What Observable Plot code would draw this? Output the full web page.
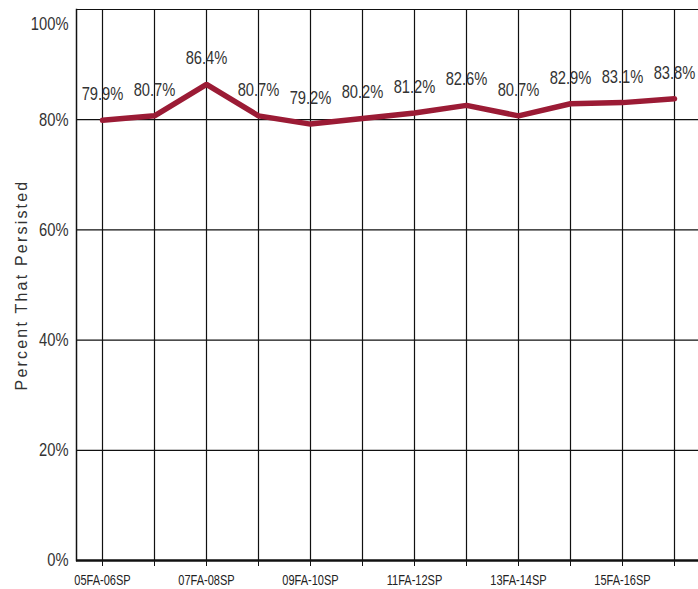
<!DOCTYPE html>
<html>
<head>
<meta charset="utf-8">
<script src="https://cdn.jsdelivr.net/npm/d3@7"></script>
<script src="https://cdn.jsdelivr.net/npm/@observablehq/plot@0.6"></script>
<style>
  html, body { margin: 0; padding: 0; background: #fff; }
  #chart svg { display: block; }
  [aria-label="y-axis label"] text, text[aria-label="y-axis label"] { letter-spacing: 2.2px; }
</style>
</head>
<body>
<div id="chart"></div>
<script>
const categories = ["05FA-06SP","06FA-07SP","07FA-08SP","08FA-09SP","09FA-10SP","10FA-11SP",
  "11FA-12SP","12FA-13SP","13FA-14SP","14FA-15SP","15FA-16SP","16FA-17SP"];
const values = [79.9, 80.7, 86.4, 80.7, 79.2, 80.2, 81.2, 82.6, 80.7, 82.9, 83.1, 83.8];
const yTicks = [0, 20, 40, 60, 80, 100];
const yLabel = "Percent That Persisted";

const data = categories.map((c, i) => ({term: c, value: values[i]}));
const narrow = "'Liberation Sans Narrow', 'Arial Narrow', 'Liberation Sans', Arial, sans-serif";

const chart = Plot.plot({
  width: 698,
  height: 589,
  marginLeft: 76,
  marginRight: 0,
  marginTop: 9,
  marginBottom: 29,
  style: {background: "#fff", fontFamily: "'Liberation Sans', Arial, sans-serif"},
  x: {type: "point", domain: categories, range: [101, 675], padding: 0, align: 0.5},
  y: {domain: [0, 100]},
  marks: [
    Plot.ruleY(yTicks, {stroke: "#111", strokeWidth: 1.2}),
    Plot.ruleX(categories, {y1: 0, y2: 100, stroke: "#111", strokeWidth: 1.2}),
    Plot.frame({anchor: "left", stroke: "#111", strokeWidth: 1.5}),
    Plot.ruleY([0], {stroke: "#111", strokeWidth: 2.6}),
    Plot.axisX({
      tickSize: 6, tickPadding: 9, stroke: "#111",
      tickFormat: d => categories.indexOf(d) % 2 === 0 ? d : "",
      fontSize: 12, fontFamily: narrow, fill: "#222", label: null
    }),
    Plot.axisY(yTicks.filter(t => t < 100), {
      tickSize: 0, tickPadding: 8, tickFormat: d => d + "%",
      fontSize: 16, fontFamily: narrow, fill: "#333",
      label: yLabel, labelAnchor: "center", labelOffset: 61
    }),
    Plot.axisY([100], {
      tickSize: 0, tickPadding: 8, tickFormat: d => d + "%", dy: 15,
      fontSize: 16, fontFamily: narrow, fill: "#333", label: null
    }),
    Plot.line(data, {x: "term", y: "value", stroke: "#9b1b35", strokeWidth: 5.5, strokeLinejoin: "miter"}),
    Plot.text(data, {x: "term", y: "value", text: d => d.value.toFixed(1) + "%", dy: -26,
      fontSize: 16, fontFamily: narrow, fill: "#333"})
  ]
});
document.getElementById("chart").appendChild(chart);
d3.select(chart).selectAll('[aria-label="y-axis label"] text, text[aria-label="y-axis label"]')
  .filter(function() { return this.textContent.includes(yLabel); })
  .text(yLabel)
  .style("font-size", "16px").style("fill", "#333");
// Reference text looks vertically stretched and condensed: append a local scale to each label.
d3.select(chart).selectAll('[aria-label="text"] text, [aria-label="y-axis tick label"] text, [aria-label="x-axis tick label"] text')
  .each(function() {
    const t = this.getAttribute("transform");
    if (t) this.setAttribute("transform", t + " scale(0.92,1.15)");
  });
</script>
</body>
</html>
